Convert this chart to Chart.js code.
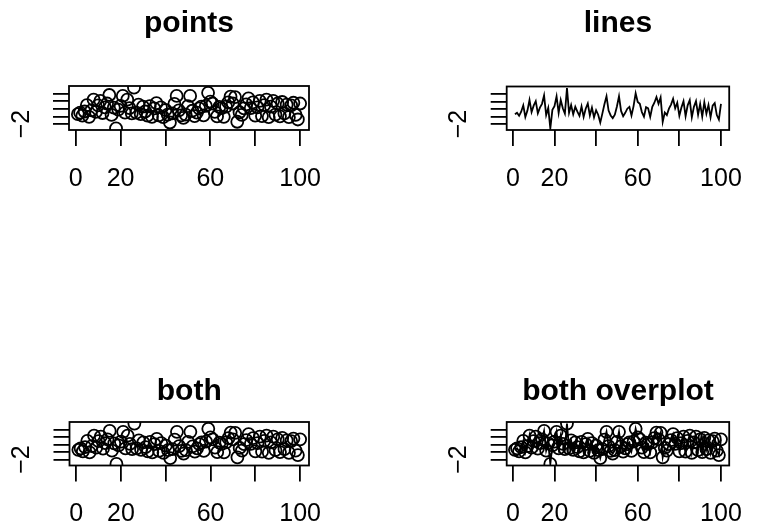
<!DOCTYPE html>
<html>
<head>
<meta charset="utf-8">
<script src="https://cdn.jsdelivr.net/npm/chart.js@4"></script>
<style>
  html, body { margin: 0; padding: 0; background: #fff; }
  #wrap { position: relative; width: 761px; height: 527px; }
  canvas { position: absolute; left: 0; top: 0; }
</style>
</head>
<body>
<div id="wrap">
  <canvas id="c1" width="761" height="527"></canvas>
  <canvas id="c2" width="761" height="527"></canvas>
  <canvas id="c3" width="761" height="527"></canvas>
  <canvas id="c4" width="761" height="527"></canvas>
</div>
<script>
// data
var xs = [1, 2, 3, 4, 5, 6, 7, 8, 9, 10, 11, 12, 13, 14, 15, 16, 17, 18, 19, 20,
  21, 22, 23, 24, 25, 26, 27, 28, 29, 30, 31, 32, 33, 34, 35, 36, 37, 38, 39, 40,
  41, 42, 43, 44, 45, 46, 47, 48, 49, 50, 51, 52, 53, 54, 55, 56, 57, 58, 59, 60,
  61, 62, 63, 64, 65, 66, 67, 68, 69, 70, 71, 72, 73, 74, 75, 76, 77, 78, 79, 80,
  81, 82, 83, 84, 85, 86, 87, 88, 89, 90, 91, 92, 93, 94, 95, 96, 97, 98, 99, 100];
var ys = [-0.70, -0.50, -0.90, -0.35, 0.50, -1.05, -0.20, 1.20, -0.40, 0.45,
  1.05, -0.55, 0.20, 0.70, 1.82, -0.80, 0.15, -2.57, -0.10, 0.40,
  1.70, -0.50, 1.20, 0.10, -0.60, 2.79, -0.50, 0.55, -0.70, 0.30,
  -0.35, -0.90, 0.35, -1.05, 0.05, 0.75, -0.85, 0.20, -1.10, -0.15,
  -0.75, -1.80, -0.60, 0.65, 1.70, -0.20, -0.85, -1.20, -0.75, 0.35,
  1.70, -0.25, -0.95, -0.50, 0.05, 0.30, -0.85, 0.40, 2.10, 0.95,
  0.70, -0.40, -1.00, 0.25, 0.10, -1.05, 0.30, 0.85, 1.60, 0.70,
  1.55, -1.70, -0.45, -0.80, 0.05, 0.60, 1.38, 0.10, 0.85, -0.90,
  0.20, 1.05, -0.95, 0.50, 1.20, -1.10, 0.30, 1.05, -0.75, 0.70,
  -1.00, 0.90, -0.60, 0.55, -1.10, 0.45, 0.80, -0.80, -1.40, 0.70];
var xTicks = [0, 20, 40, 60, 80, 100];
var xTickLabels = ['0', '20', '', '60', '', '100'];
var yTicks = [-2, -1, 0, 1, 2];
var yTickLabels = ['\u22122', '', '', '', ''];
var titles = ['points', 'lines', 'both', 'both overplot'];

// R style 4% range extension
function extend(arr) {
  var lo = Math.min.apply(null, arr), hi = Math.max.apply(null, arr);
  var d = (hi - lo) * 0.04;
  return [lo - d, hi + d];
}
var xr = extend(xs), yr = extend(ys);

Chart.defaults.font.family = "'Liberation Sans', Arial, Helvetica, sans-serif";
Chart.defaults.color = '#000';

var boxPlugin = {
  id: 'box',
  afterDraw: function (chart) {
    var a = chart.chartArea, c = chart.ctx;
    c.save();
    c.strokeStyle = '#000';
    c.lineWidth = 1.8;
    c.strokeRect(a.left, a.top, a.right - a.left, a.bottom - a.top);
    c.restore();
  }
};

var Y_AXIS_W = 60, X_AXIS_H = 60;

function makePanel(id, title, box, showPoints, showLine) {
  var pts = xs.map(function (x, i) { return { x: x, y: ys[i] }; });
  return new Chart(document.getElementById(id), {
    type: 'line',
    data: {
      datasets: [{
        data: pts,
        showLine: showLine,
        borderColor: '#000',
        borderWidth: 1.8,
        tension: 0,
        pointRadius: showPoints ? 6 : 0,
        pointBorderWidth: 1.8,
        pointBorderColor: '#000',
        pointBackgroundColor: 'rgba(0,0,0,0)',
        clip: 0
      }]
    },
    options: {
      responsive: false,
      animation: false,
      events: [],
      layout: {
        padding: { left: box.l - Y_AXIS_W, right: 761 - box.r, top: 0, bottom: 527 - box.b - X_AXIS_H }
      },
      plugins: {
        legend: { display: false },
        tooltip: { enabled: false },
        title: {
          display: true,
          text: title,
          fullSize: false,
          color: '#000',
          font: { size: 30, weight: 'bold', lineHeight: 1.2 },
          padding: { top: box.tm - 18, bottom: box.t - (box.tm - 18) - 36 }
        }
      },
      scales: {
        x: {
          type: 'linear',
          min: xr[0], max: xr[1],
          afterBuildTicks: function (s) { s.ticks = xTicks.map(function (v) { return { value: v }; }); },
          afterFit: function (s) { s.height = X_AXIS_H; },
          grid: { drawOnChartArea: false, tickLength: 16, color: '#000', lineWidth: 1.8 },
          border: { display: false },
          ticks: {
            autoSkip: false, maxRotation: 0, padding: 18, color: '#000',
            font: { size: 25 },
            callback: function (v, i) { return xTickLabels[i]; }
          }
        },
        y: {
          type: 'linear',
          min: yr[0], max: yr[1],
          afterBuildTicks: function (s) { s.ticks = yTicks.map(function (v) { return { value: v }; }); },
          afterFit: function (s) { s.width = Y_AXIS_W; },
          grid: { drawOnChartArea: false, tickLength: 16, color: '#000', lineWidth: 1.8 },
          border: { display: false },
          ticks: {
            autoSkip: false, minRotation: 90, maxRotation: 90, crossAlign: 'center',
            padding: 17, color: '#000',
            font: { size: 25 },
            callback: function (v, i) { return yTickLabels[i]; }
          }
        }
      }
    },
    plugins: [boxPlugin]
  });
}

// panel boxes (plot region edges and title middle), in page pixels
makePanel('c1', titles[0], { l: 69, r: 309, t: 86, b: 130, tm: 24 }, true, false);
makePanel('c2', titles[1], { l: 506.7, r: 745.5, t: 86.5, b: 130, tm: 24 }, false, true);
makePanel('c3', titles[2], { l: 69.5, r: 309, t: 422, b: 465.5, tm: 392 }, true, false);
makePanel('c4', titles[3], { l: 506.7, r: 745.5, t: 422, b: 465.5, tm: 392 }, true, true);
</script>
</body>
</html>
